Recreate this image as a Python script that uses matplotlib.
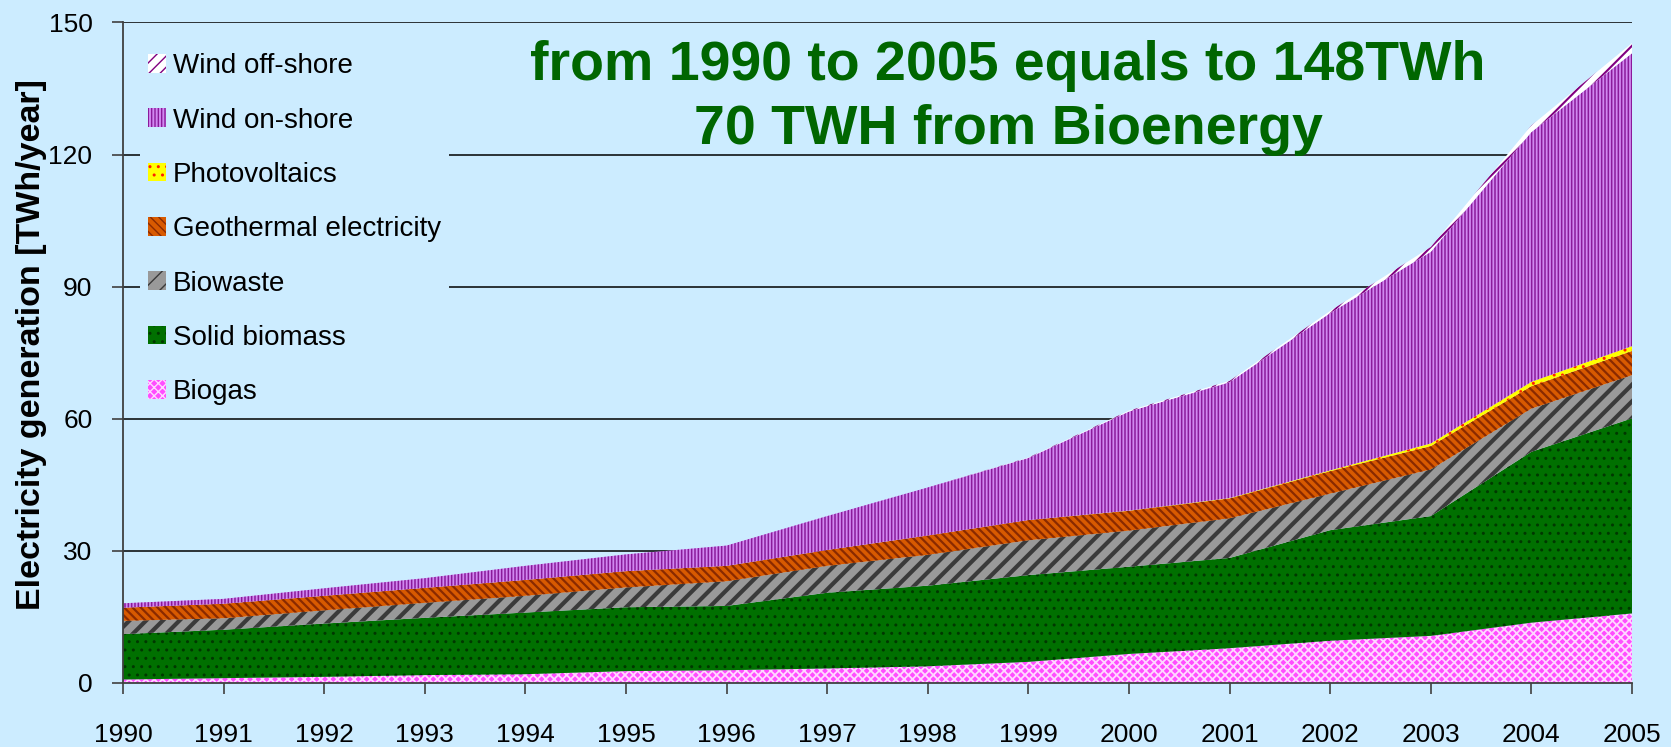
import numpy as np
import matplotlib
matplotlib.use("Agg")
import matplotlib.pyplot as plt
from matplotlib.patches import Patch

plt.rcParams['font.family'] = ['Liberation Sans', 'DejaVu Sans']

years = list(range(1990, 2006))

# TWh/year
biogas = [0.8, 1.1, 1.4, 1.8, 2.0, 2.7, 2.9, 3.3, 3.8, 4.8, 6.6, 7.9, 9.6, 10.7, 13.7, 15.8]
solid_biomass = [10.3, 11.0, 12.1, 13.0, 14.0, 14.5, 14.6, 17.2, 18.3, 19.7, 19.8, 20.5, 25.1, 27.2, 38.8, 44.3]
biowaste = [3.0, 2.6, 3.0, 3.4, 3.8, 4.5, 5.6, 6.1, 7.0, 7.9, 8.2, 9.0, 8.3, 10.6, 9.8, 9.8]
geothermal = [3.0, 3.3, 3.3, 3.4, 3.6, 3.7, 3.5, 3.6, 4.4, 4.6, 4.5, 4.5, 5.1, 5.3, 5.1, 5.5]
photovoltaics = [0, 0, 0, 0, 0, 0, 0, 0, 0, 0, 0.05, 0.1, 0.2, 0.6, 1.0, 1.1]
wind_onshore = [1.0, 1.1, 1.7, 2.2, 3.2, 3.8, 4.6, 7.7, 10.9, 14.1, 22.5, 26.3, 35.7, 43.5, 56.7, 66.5]
wind_offshore = [0, 0, 0, 0, 0, 0, 0, 0, 0, 0.1, 0.2, 0.3, 0.5, 1.1, 1.5, 2.3]

labels = ["Biogas", "Solid biomass", "Biowaste", "Geothermal electricity",
          "Photovoltaics", "Wind on-shore", "Wind off-shore"]
values = [biogas, solid_biomass, biowaste, geothermal, photovoltaics, wind_onshore, wind_offshore]

yticks = [0, 30, 60, 90, 120, 150]
title_lines = ["from 1990 to 2005 equals to 148TWh", "70 TWH from Bioenergy"]

BG = "#CCECFF"
# face colour, hatch colour, hatch, hatch line width
styles = [
    ("#FF4DFF", "#FFD8FF", "xxxx", 1.3),
    ("#007000", "#003800", "..", 1.0),
    ("#999999", "#3A3A3A", "//", 3.0),
    ("#D85A00", "#8A2A00", "\\\\\\\\", 1.6),
    ("#FFFF00", "#FF2000", "..", 1.0),
    ("#D088F0", "#8A1A9A", "|||||", 1.1),
    ("#FFFFFF", "#800080", "///", 1.5),
]


def hatched(maker, hatch_lw):
    with plt.rc_context({'hatch.linewidth': hatch_lw}):
        art = maker()
    if hasattr(art, "set_hatch_linewidth"):
        art.set_hatch_linewidth(hatch_lw)
    return art


fig = plt.figure(figsize=(16.71, 7.47), dpi=100, facecolor=BG)
ax = fig.add_axes([123 / 1671, 64 / 747, 1509 / 1671, 660.6 / 747])
ax.set_facecolor(BG)

x = np.array(years)
bottom = np.zeros(len(years))
handles = []
for vals, (face, hcol, hatch, hlw), lab in zip(values, styles, labels):
    top = bottom + np.array(vals)
    hatched(lambda: ax.fill_between(x, bottom, top, facecolor=face, edgecolor=hcol,
                                    hatch=hatch, linewidth=0, zorder=2), hlw)
    handles.append(hatched(lambda: Patch(facecolor=face, edgecolor=hcol, hatch=hatch,
                                         linewidth=0), min(hlw, 1.5)))
    bottom = top

ax.set_xlim(1990, 2005)
ax.set_ylim(0, 150)
ax.set_xticks(years)
ax.set_yticks(yticks)
ax.yaxis.grid(True, color="black", linewidth=1.1)
ax.set_axisbelow(True)

for s in ["top", "right"]:
    ax.spines[s].set_visible(False)
for s in ["left", "bottom"]:
    ax.spines[s].set_color("#404040")
    ax.spines[s].set_linewidth(1.3)

ax.tick_params(axis="both", direction="out", length=8, width=1.2, color="#404040",
               labelsize=19)
ax.tick_params(axis="x", pad=21)
ax.tick_params(axis="y", pad=14)

fig.text(32 / 1671, 1 - 345 / 747, "Electricity generation [TWh/year]", rotation=90,
         ha="center", va="center", fontsize=24.5, fontweight="bold")

ax.text(0.5865, 0.9128, title_lines[0], transform=ax.transAxes, ha="center",
        va="baseline", fontsize=40, fontweight="bold", color="#006600", zorder=5)
ax.text(0.5865, 0.816, title_lines[1], transform=ax.transAxes, ha="center",
        va="baseline", fontsize=40, fontweight="bold", color="#006600", zorder=5)

leg = ax.legend(handles[::-1], labels[::-1], loc="upper left",
                bbox_to_anchor=(0.011, 0.966), fontsize=20, frameon=True,
                facecolor=BG, edgecolor="none", framealpha=1, fancybox=False,
                handlelength=0.65, handleheight=0.65, handletextpad=0.25,
                labelspacing=1.02, borderpad=0.3, borderaxespad=0)
leg.set_zorder(4)

fig.savefig("out.png", dpi=100, facecolor=BG)
